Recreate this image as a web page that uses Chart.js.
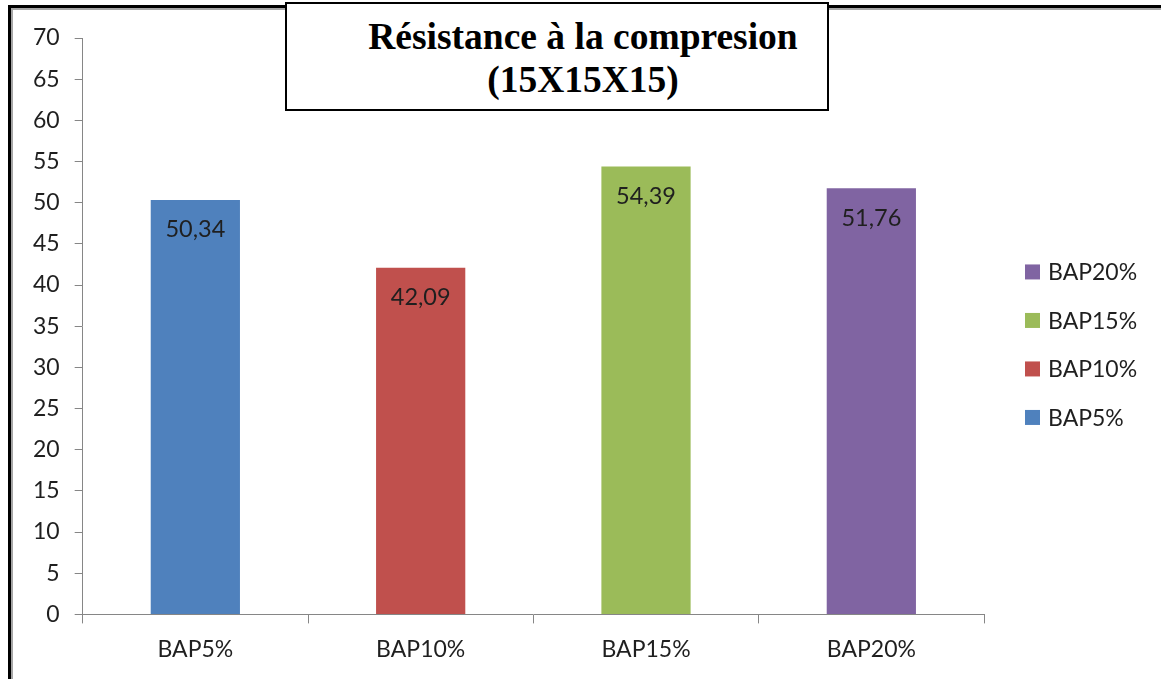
<!DOCTYPE html>
<html>
<head>
<meta charset="utf-8">
<title>Résistance à la compresion (15X15X15)</title>
<script src="https://cdn.jsdelivr.net/npm/chart.js@4/dist/chart.umd.min.js"></script>
<style>
  html, body { margin: 0; padding: 0; background: #fff; }
  body { width: 1161px; height: 679px; position: relative; overflow: hidden; }
  #frame {
    position: absolute; left: 8px; top: 5px; right: -10px; bottom: -10px;
    border-left: 3px solid #000; border-top: 3px solid #000;
  }
  #frame-inner {
    position: absolute; left: 0; top: 0; right: 0; bottom: 0;
    border-left: 2px solid #a6a6a6; border-top: 2px solid #a6a6a6;
  }
  #chart-wrap { position: absolute; left: 0; top: 0; width: 1161px; height: 679px; }
  #title-box {
    position: absolute; left: 285px; top: 2px; width: 540px; height: 105px;
    border: 2px solid #000; background: #fff;
    font-family: "Liberation Serif", "Times New Roman", serif; font-weight: bold;
    font-size: 37.5px; line-height: 43px; color: #000;
    text-align: center; box-sizing: content-box;
  }
  #title-box .inner { padding: 11px 0 0 52px; }
</style>
</head>
<body>
<div id="frame"><div id="frame-inner"></div></div>
<div id="chart-wrap"><canvas id="chart" width="1161" height="679"></canvas></div>
<div id="title-box"><div class="inner">Résistance à la compresion<br>(15X15X15)</div></div>
<script>
// Compressive strength of the four mixes (MPa)
const categories = ['BAP5%', 'BAP10%', 'BAP15%', 'BAP20%'];
const strengths = [50.34, 42.09, 54.39, 51.76];
const barColors = ['#4F81BD', '#C0504D', '#9BBB59', '#8064A2'];
const yTicks = [0, 5, 10, 15, 20, 25, 30, 35, 40, 45, 50, 55, 60, 65, 70];

const uiFont = 'Lato, "Open Sans", "DejaVu Sans", sans-serif';
const axisGray = '#868686';
const textColor = '#1f1f1f';

const formatFr = v => v.toFixed(2).replace('.', ',');

// Value labels printed inside the top of each bar
const valueLabels = {
  id: 'valueLabels',
  afterDatasetsDraw(chart) {
    const ctx = chart.ctx;
    const meta = chart.getDatasetMeta(0);
    ctx.save();
    ctx.font = '23.5px ' + uiFont;
    ctx.fillStyle = textColor;
    ctx.textAlign = 'center';
    ctx.textBaseline = 'middle';
    meta.data.forEach((bar, i) => {
      ctx.fillText(formatFr(strengths[i]), bar.x, bar.y + 30);
    });
    ctx.restore();
  }
};

// Category legend to the right of the plot, listed in reverse order
const sideLegend = {
  id: 'sideLegend',
  afterDraw(chart) {
    const ctx = chart.ctx;
    const area = chart.chartArea;
    const box = 15, rowGap = 48.5;
    const x0 = area.right + 41;
    const order = categories.map((c, i) => i).reverse();
    const yMid = (area.top + area.bottom) / 2 + 18.5;
    const y0 = yMid - rowGap * (order.length - 1) / 2;
    ctx.save();
    ctx.font = '23px ' + uiFont;
    ctx.textBaseline = 'middle';
    ctx.textAlign = 'left';
    order.forEach((idx, r) => {
      const cy = y0 + r * rowGap;
      ctx.fillStyle = barColors[idx];
      ctx.fillRect(x0, cy - box / 2, box, box);
      ctx.fillStyle = textColor;
      ctx.fillText(categories[idx], x0 + box + 8, cy + 1);
    });
    ctx.restore();
  }
};

new Chart(document.getElementById('chart'), {
  type: 'bar',
  data: {
    labels: categories,
    datasets: [{
      label: 'Résistance à la compresion',
      data: strengths,
      backgroundColor: barColors,
      borderWidth: 0,
      categoryPercentage: 1,
      barPercentage: 0.396
    }]
  },
  options: {
    responsive: false,
    animation: false,
    events: [],
    layout: { padding: { left: 18, top: 38, right: 177, bottom: 4 } },
    plugins: {
      legend: { display: false },
      title: { display: false },
      tooltip: { enabled: false }
    },
    scales: {
      x: {
        grid: {
          offset: true, drawOnChartArea: false, drawTicks: true,
          tickLength: 9, color: axisGray, lineWidth: 1
        },
        border: { color: axisGray, width: 1 },
        ticks: { font: { family: uiFont, size: 23 }, color: textColor, padding: 12 }
      },
      y: {
        min: 0, max: 70,
        afterBuildTicks: scale => { scale.ticks = yTicks.map(v => ({ value: v })); },
        grid: {
          drawOnChartArea: false, drawTicks: true,
          tickLength: 8, color: axisGray, lineWidth: 1
        },
        border: { color: axisGray, width: 1 },
        ticks: { font: { family: uiFont, size: 23 }, color: textColor, padding: 15 }
      }
    }
  },
  plugins: [valueLabels, sideLegend]
});
</script>
</body>
</html>
